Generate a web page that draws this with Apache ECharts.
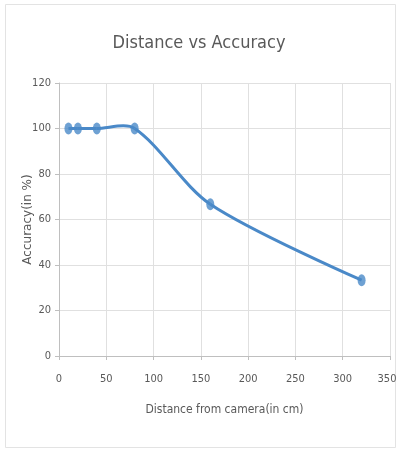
<!DOCTYPE html>
<html><head><meta charset="utf-8">
<script src="https://cdn.jsdelivr.net/npm/echarts@6/dist/echarts.min.js"></script>
<style>html,body{margin:0;padding:0;background:#fff}#c{width:398px;height:450px}</style>
</head><body><div id="c"></div>
<script>
const distances = [10, 20, 40, 80, 160, 320];
const accuracy = [100, 100, 100, 100, 66.7, 33.3];
const xTicks = [0, 50, 100, 150, 200, 250, 300, 350];
const yTicks = [0, 20, 40, 60, 80, 100, 120];

const chart = echarts.init(document.getElementById('c'));
const font = '"DejaVu Sans Condensed", "Liberation Sans Narrow", sans-serif';
const lineColor = '#4a89c8';
const SMOOTH = 0.3;

// Excel-style smoothed segment (can overshoot), drawn in pixel space via the axes' scales
function renderSegment(params, api) {
  const i = params.dataIndex;
  const n = distances.length;
  if (i >= n - 1) return null;
  const P = j => api.coord([distances[Math.max(0, Math.min(n - 1, j))], accuracy[Math.max(0, Math.min(n - 1, j))]]);
  const p0 = P(i - 1), p1 = P(i), p2 = P(i + 1), p3 = P(i + 2);
  const len = (a, b) => Math.hypot(b[0] - a[0], b[1] - a[1]);
  function outCp(prev, cur, next) {
    const lp = len(prev, cur), ln = len(cur, next);
    if (lp + ln === 0) return cur;
    const r = ln / (lp + ln);
    return [cur[0] + (next[0] - prev[0]) * SMOOTH * r, cur[1] + (next[1] - prev[1]) * SMOOTH * r];
  }
  function inCp(prev, cur, next) {
    const lp = len(prev, cur), ln = len(cur, next);
    if (lp + ln === 0) return cur;
    const r = lp / (lp + ln);
    return [cur[0] - (next[0] - prev[0]) * SMOOTH * r, cur[1] - (next[1] - prev[1]) * SMOOTH * r];
  }
  const c1 = i === 0 ? p1 : outCp(p0, p1, p2);
  const c2 = i + 1 === n - 1 ? p2 : inCp(p1, p2, p3);
  return {
    type: 'bezierCurve',
    shape: {x1: p1[0], y1: p1[1], x2: p2[0], y2: p2[1], cpx1: c1[0], cpy1: c1[1], cpx2: c2[0], cpy2: c2[1]},
    style: {fill: null, stroke: lineColor, lineWidth: 3}
  };
}

const points = distances.map((d, i) => [d, accuracy[i]]);
chart.setOption({
  animation: false,
  graphic: [{type:'rect', shape:{x:5.5,y:4.5,width:390,height:443}, style:{fill:'none', stroke:'#e3e3e3', lineWidth:1}}],
  title: {text: 'Distance vs Accuracy', left: 'center', top: 29,
    textStyle: {fontFamily: font, fontWeight: 'normal', fontSize: 18, color: '#595959'}},
  grid: {left: 59, right: 8, top: 83, bottom: 94, outerBoundsMode: 'none', containLabel: false},
  xAxis: {type: 'value', min: 0, max: 350, interval: 50,
    name: 'Distance from camera(in cm)', nameLocation: 'middle', nameGap: 48, nameMoveOverlap: false,
    nameTextStyle: {fontFamily: font, fontSize: 12, color: '#595959'},
    axisLine: {show: true, lineStyle: {color: '#bfbfbf'}},
    axisTick: {show: true, length: 4, lineStyle: {color: '#bfbfbf'}},
    axisLabel: {fontFamily: font, fontSize: 11, color: '#595959', margin: 18,
      formatter: v => v === 350 ? '{r|350}' : (xTicks.includes(v) ? String(v) : ''),
      rich: {r: {fontFamily: font, fontSize: 11, color: '#595959', padding: [0, 6, 0, 0]}}},
    splitLine: {show: true, lineStyle: {color: '#e0e0e0'}}},
  yAxis: {type: 'value', min: 0, max: 120, interval: 20,
    name: 'Accuracy(in %)', nameLocation: 'middle', nameGap: 25, nameRotate: 90, nameMoveOverlap: false,
    nameTextStyle: {fontFamily: '"DejaVu Sans", Verdana, sans-serif', fontSize: 12, color: '#595959'},
    axisLine: {show: true, lineStyle: {color: '#bfbfbf'}},
    axisTick: {show: true, length: 4, lineStyle: {color: '#bfbfbf'}},
    axisLabel: {fontFamily: font, fontSize: 11, color: '#595959', margin: 8,
      formatter: v => yTicks.includes(v) ? String(v) : ''},
    splitLine: {show: true, lineStyle: {color: '#e0e0e0'}}},
  series: [
    {type: 'custom', data: points, encode: {x: 0, y: 1}, renderItem: renderSegment, clip: false, z: 2},
    {type: 'scatter', data: points, symbol: 'circle', symbolSize: [8, 12],
      itemStyle: {color: lineColor}, z: 3}
  ]
});
</script></body></html>
